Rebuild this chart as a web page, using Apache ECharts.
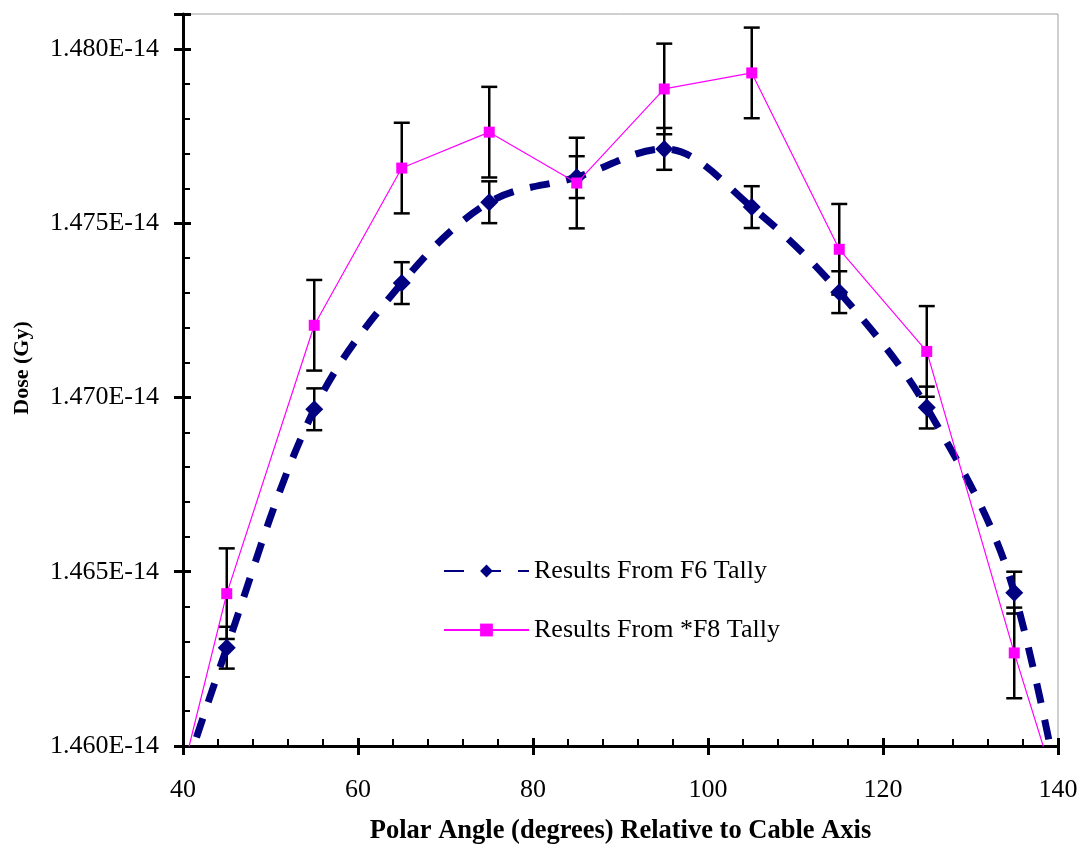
<!DOCTYPE html>
<html>
<head>
<meta charset="utf-8">
<script src="https://cdn.jsdelivr.net/npm/echarts@6/dist/echarts.min.js"></script>
<style>html,body{margin:0;padding:0;background:#fff}#c{width:1081px;height:844px}</style>
</head>
<body>
<div id="c"></div>
<script>
// Polar angle (degrees); first and last points lie outside the visible axis range
const angles = [35, 45, 55, 65, 75, 85, 95, 105, 115, 125, 135, 145];
// Dose values in units of 1E-14 Gy
const doseF6 = [1.4552, 1.46282, 1.46966, 1.47328, 1.47560, 1.47632, 1.47713, 1.47546, 1.47302, 1.46971, 1.46440, 1.4518];
const doseF8 = [1.4542, 1.46437, 1.47207, 1.47658, 1.47761, 1.47615, 1.47885, 1.47931, 1.47425, 1.47132, 1.46267, 1.4546];
// Error (± half-width, units of 1E-14 Gy) for the measured points
const errF6 = [0.0006, 0.0006, 0.0006, 0.0006, 0.0006, 0.0006, 0.0006, 0.0006, 0.0006, 0.0006, 0.0006, 0.0006];
const errF8 = [0.0013, 0.0013, 0.0013, 0.0013, 0.0013, 0.0013, 0.0013, 0.0013, 0.0013, 0.0013, 0.0013, 0.0013];
const xTicks = [40, 60, 80, 100, 120, 140];
const yTicks = [1.460, 1.465, 1.470, 1.475, 1.480];
const seriesNames = ['Results From F6 Tally', 'Results From *F8 Tally'];
const xTitle = 'Polar Angle (degrees) Relative to Cable Axis';
const yTitle = 'Dose (Gy)';

const FONT = 'Liberation Serif';
const chart = echarts.init(document.getElementById('c'), null, {renderer: 'canvas', width: 1081, height: 844});

function errData(vals, errs) {
  return angles.map((a, i) => [a, vals[i] - errs[i], vals[i] + errs[i]]);
}
function renderErr(params, api) {
  const x = api.value(0);
  const p1 = api.coord([x, api.value(1)]);
  const p2 = api.coord([x, api.value(2)]);
  const w = 8;
  const st = {stroke: '#000', lineWidth: 2.5};
  return {
    type: 'group',
    children: [
      {type: 'line', shape: {x1: p1[0], y1: p1[1], x2: p2[0], y2: p2[1]}, style: st},
      {type: 'line', shape: {x1: p1[0] - w, y1: p1[1], x2: p1[0] + w, y2: p1[1]}, style: st},
      {type: 'line', shape: {x1: p2[0] - w, y1: p2[1], x2: p2[0] + w, y2: p2[1]}, style: st}
    ]
  };
}

const yMin = yTicks[0], yMax = 1.481, yInt = yTicks[1] - yTicks[0];
const xMin = xTicks[0], xMax = xTicks[xTicks.length - 1], xInt = xTicks[1] - xTicks[0];

const option = {
  animation: false,
  backgroundColor: '#fff',
  grid: {left: 183, right: 23, top: 14, bottom: 98, show: true, borderColor: '#a0a0a0', borderWidth: 1,
    containLabel: false, outerBoundsMode: 'none'},
  legend: {
    orient: 'vertical', left: 438, top: 553,
    itemWidth: 85, itemHeight: 16, itemGap: 33,
    textStyle: {fontFamily: FONT, fontSize: 26, color: '#000', lineHeight: 26},
    data: seriesNames
  },
  xAxis: [{
    type: 'value', min: xMin, max: xMax, interval: xInt, position: 'bottom',
    name: xTitle, nameLocation: 'middle', nameGap: 72,
    nameTextStyle: {fontFamily: FONT, fontSize: 26.5, fontWeight: 'bold', color: '#000'},
    axisLine: {show: true, onZero: false, lineStyle: {color: '#000', width: 3}},
    axisTick: {show: true, inside: true, length: 8, lineStyle: {color: '#000', width: 3}},
    minorTick: {show: true, splitNumber: 5, length: 7, lineStyle: {color: '#000', width: 2}},
    axisLabel: {fontFamily: FONT, fontSize: 26, color: '#000', margin: 31},
    splitLine: {show: false}
  }, {
    type: 'value', min: xMin, max: xMax, interval: xInt, position: 'bottom',
    axisLine: {show: false, onZero: false},
    axisTick: {show: true, inside: false, length: 9, lineStyle: {color: '#000', width: 3}},
    axisLabel: {show: false}, splitLine: {show: false}
  }],
  yAxis: [{
    type: 'value', min: yMin, max: yMax, interval: yInt, position: 'left',
    name: yTitle, nameLocation: 'middle', nameGap: 150, nameRotate: 90,
    nameTextStyle: {fontFamily: FONT, fontSize: 22, fontWeight: 'bold', color: '#000', padding: [0, 0, 0, 24]},
    axisLine: {show: true, onZero: false, lineStyle: {color: '#000', width: 3}},
    axisTick: {show: true, inside: true, length: 8, lineStyle: {color: '#000', width: 3}},
    minorTick: {show: true, splitNumber: 5, length: 7, lineStyle: {color: '#000', width: 2}},
    axisLabel: {fontFamily: FONT, fontSize: 26, color: '#000', margin: 24, showMaxLabel: false,
      formatter: v => v.toFixed(3) + 'E-14'},
    splitLine: {show: false}
  }, {
    type: 'value', min: yMin, max: yMax, interval: yInt, position: 'left',
    axisLine: {show: false, onZero: false},
    axisTick: {show: true, inside: false, length: 9, lineStyle: {color: '#000', width: 3}},
    axisLabel: {show: false}, splitLine: {show: false}
  }],
  series: [
    {
      type: 'custom', name: 'errF6', renderItem: renderErr, clip: true, z: 1,
      xAxisIndex: 0, yAxisIndex: 0, encode: {x: 0, y: [1, 2]},
      data: errData(doseF6, errF6)
    },
    {
      type: 'custom', name: 'errF8', renderItem: renderErr, clip: true, z: 1,
      xAxisIndex: 0, yAxisIndex: 0, encode: {x: 0, y: [1, 2]},
      data: errData(doseF8, errF8)
    },
    {
      type: 'line', name: seriesNames[0], z: 3, clip: true,
      data: angles.map((a, i) => [a, doseF6[i]]),
      smooth: 0.35,
      symbol: 'diamond', symbolSize: 18,
      itemStyle: {color: '#000080'},
      lineStyle: {color: '#000080', width: 7, type: [20, 17]}
    },
    {
      type: 'line', name: seriesNames[1], z: 4, clip: true,
      data: angles.map((a, i) => [a, doseF8[i]]),
      symbol: 'rect', symbolSize: 11,
      itemStyle: {color: '#FF00FF'},
      lineStyle: {color: '#FF00FF', width: 1.2}
    }
  ]
};
chart.setOption(option);
</script>
</body>
</html>
